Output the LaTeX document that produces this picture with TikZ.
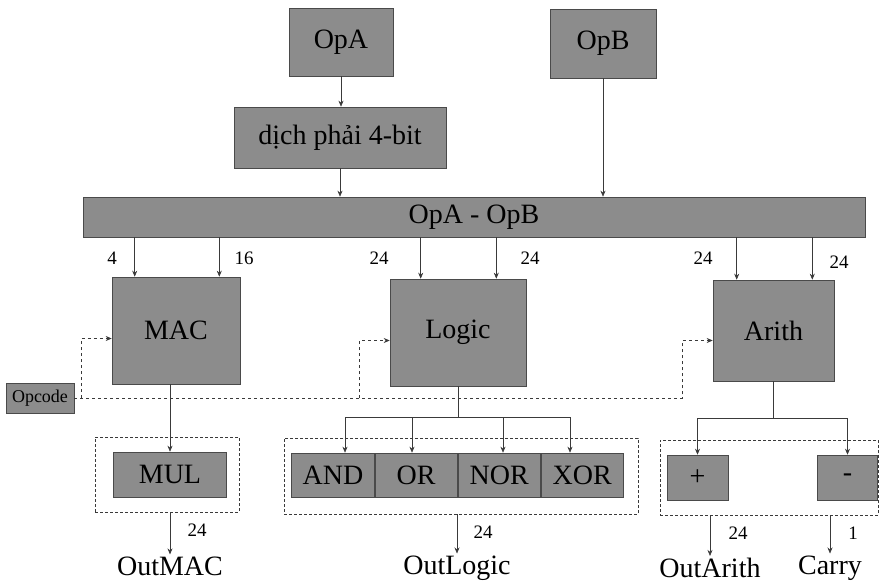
\documentclass[tikz,border=0pt]{standalone}
\usepackage{fontspec}
\setmainfont{Liberation Serif}
\newfontfamily\blockfont{Liberation Serif}
\usetikzlibrary{positioning,arrows.meta}
\definecolor{boxgray}{HTML}{8C8C8C}
\definecolor{edgegray}{HTML}{4A4A4A}
\definecolor{linegray}{HTML}{3A3A3A}
\tikzset{
	blk/.style={draw=edgegray, fill=boxgray, line width=0.6pt, inner sep=0pt, font=\blockfont\fontsize{28}{30}\selectfont},
	grp/.style={draw=linegray, densely dashed, line width=0.7pt, inner sep=0pt},
	wire/.style={draw=linegray, line width=0.6pt},
	arr/.style={wire, -{Stealth[length=6pt,width=5pt]}},
	ctl/.style={arr, dashed},
	num/.style={font=\blockfont\fontsize{19}{21}\selectfont, inner sep=1pt},
	outlbl/.style={font=\blockfont\fontsize{28}{30}\selectfont, inner sep=2pt},
}

\begin{document}
\begin{tikzpicture}[x=1pt,y=-1pt]
	% page frame, one unit per pixel of the reference
	\path[use as bounding box] (0,0) rectangle (879,586);
	\fill[white] (0,0) rectangle (879,586);

	% operands and the shared bus
	\node[blk, minimum width=104, minimum height=68] (opa) at (341,42) {OpA};
	\node[blk, minimum width=106, minimum height=69] (opb) at (603,43.5) {OpB};
	\node[blk, minimum width=212, minimum height=61] (shift) at (340,137.5) {dịch phải 4-bit};
	\node[blk, minimum width=782, minimum height=40] (bar) at (474,217) {OpA - OpB};

	\draw[arr] (opa.south) -- (opa.south |- shift.north);
	\draw[arr] (shift.south) -- (shift.south |- bar.north);
	\draw[arr] (opb.south) -- (opb.south |- bar.north);

	% the three units
	\node[blk, minimum width=128, minimum height=107] (mac) at (176,330.5) {MAC};
	\node[blk, minimum width=136, minimum height=107] (logic) at (458,332.5) {Logic};
	\node[blk, minimum width=121, minimum height=101] (arith) at (773.5,330.5) {Arith};
	\node[blk, minimum width=68, minimum height=30, font=\blockfont\fontsize{18}{20}\selectfont] (opcode) at (40,398) {Opcode};

	% bus taps into each unit
	\foreach \b/\l/\r in {mac/23/21, logic/31/30, arith/24/22} {
		\coordinate (\b-a) at ([xshift=\l pt]\b.north west);
		\coordinate (\b-b) at ([xshift=-\r pt]\b.north east);
		\draw[arr] (bar.south -| \b-a) -- (\b-a);
		\draw[arr] (bar.south -| \b-b) -- (\b-b);
	}
	\node[num] (w1) at (112,258) {4};
	\node[num] (w2) at (244,258) {16};
	\node[num] (w3) at (379,258) {24};
	\node[num] (w4) at (530,258) {24};
	\node[num] (w5) at (703,258) {24};
	\node[num] (w6) at (839,262) {24};

	% opcode select lines
	\draw[ctl] (opcode.east) -- ([xshift=-30pt]opcode.east -| arith.west) |- ([yshift=-10pt]arith.west);
	\draw[ctl] ([xshift=7pt]opcode.east) |- ([yshift=-8pt]mac.west);
	\draw[ctl] ([xshift=-30pt]opcode.east -| logic.west) |- ([yshift=-8pt]logic.west);

	% dashed groups
	\node[grp, minimum width=144, minimum height=75] (mulgrp) at (167,474.5) {};
	\node[grp, minimum width=354, minimum height=76] (loggrp) at (461,476) {};
	\node[grp, minimum width=218, minimum height=75] (arigrp) at (769,477.5) {};

	% MAC output stage
	\node[blk, minimum width=113, minimum height=45] (mul) at (170,474.5) {MUL};
	\draw[arr] (mac.south -| mul.north) -- (mul.north);

	% logic gates
	\node[blk, minimum width=82.5, minimum height=44] (gand) at (333,475) {AND};
	\node[blk, minimum width=82.5, minimum height=44, right=0pt of gand] (gor) {OR};
	\node[blk, minimum width=82.5, minimum height=44, right=0pt of gor] (gnor) {NOR};
	\node[blk, minimum width=82.5, minimum height=44, right=0pt of gnor] (gxor) {XOR};
	\draw[wire] (logic.south) -- ++(0,31) coordinate (lsplit);
	\draw[wire] ([xshift=-113pt]lsplit) -- ([xshift=112pt]lsplit);
	\foreach \dx/\g in {-113/gand, -46/gor, 45/gnor, 112/gxor}
		\draw[arr] ([xshift=\dx pt]lsplit) -- ([xshift=\dx pt]lsplit |- \g.north);

	% add and subtract
	\node[blk, minimum width=61, minimum height=45] (plus) at (697.5,477.5) {+};
	\node[blk, minimum width=60, minimum height=45] (minus) at (847.5,477.5) {-};
	\draw[wire] (arith.south) -- ++(0,37) coordinate (asplit);
	\draw[arr] (asplit) -| (plus.north);
	\draw[arr] (asplit) -| (minus.north);

	% outputs
	\node[outlbl] (outmac) at (170,566) {OutMAC};
	\node[outlbl] (outlogic) at (457,568) {OutLogic};
	\node[outlbl] (outarith) at (710,568) {OutArith};
	\node[outlbl] (carry) at (830,568) {Carry};
	\draw[arr] (mulgrp.south -| outmac) -- (outmac.north);
	\draw[arr] (loggrp.south -| outlogic) -- (outlogic.north);
	\draw[arr] (arigrp.south -| outarith) -- (outarith.north);
	\draw[arr] (arigrp.south -| carry) -- (carry.north);
	\node[num] (w7) at (197,530) {24};
	\node[num] (w8) at (483,532) {24};
	\node[num] (w9) at (738,533) {24};
	\node[num] (w10) at (853,533) {1};
\end{tikzpicture}
\end{document}
